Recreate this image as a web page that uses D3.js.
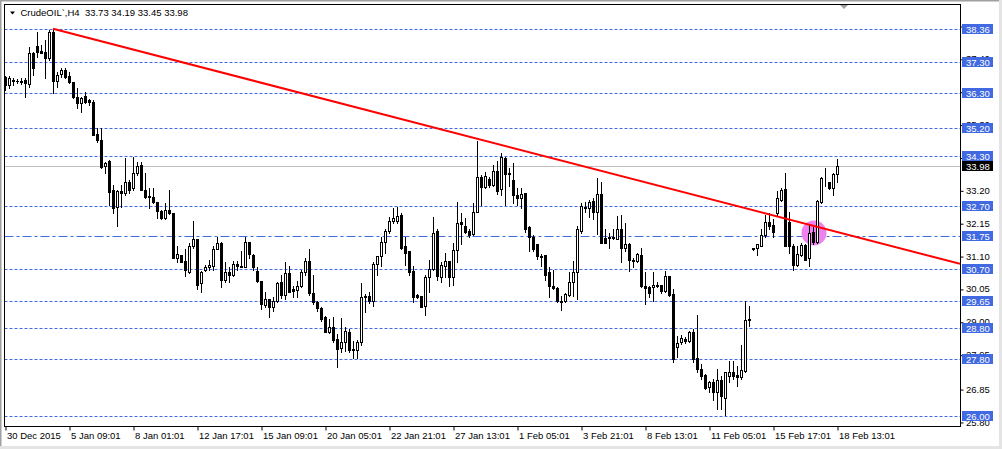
<!DOCTYPE html>
<html>
<head>
<meta charset="utf-8">
<script src="https://cdn.jsdelivr.net/npm/d3@7"></script>
<style>
  body { margin: 0; background: #fff; }
  svg { display: block; }
  svg text { font-family: "Liberation Sans", Arial, sans-serif; font-size: 9.5px; }
</style>
</head>
<body>
<script>
// H4 bars, oldest first (one bar every 4 hours, weekends skipped)
var opens = [
  36.82,36.57,36.73,36.69,36.67,36.73,36.60,37.59,37.81,37.65,
  37.62,37.43,38.26,36.69,36.92,37.05,36.85,36.66,36.19,35.99,
  36.22,36.09,36.03,35.01,34.82,33.99,34.15,33.22,32.68,33.19,
  33.13,33.45,33.29,33.76,34.02,33.22,33.03,33.00,32.84,32.55,
  32.33,32.58,32.46,31.05,31.12,30.93,30.58,31.41,31.63,30.23,
  30.67,30.74,30.77,31.34,31.53,30.35,30.58,30.51,30.86,30.75,
  30.74,31.56,31.12,30.61,30.29,29.53,29.72,29.46,29.65,30.26,
  29.84,30.55,30.04,30.00,30.13,30.58,30.93,29.91,29.62,29.43,
  29.14,28.67,28.83,28.44,28.16,28.35,28.67,28.12,28.09,28.35,
  29.78,29.81,29.65,30.86,31.09,31.56,31.91,32.23,32.23,32.42,
  31.41,31.25,30.61,29.84,29.81,29.49,30.42,30.70,31.91,30.42,
  30.77,30.93,30.42,31.28,32.20,32.07,31.91,31.79,32.52,33.64,
  33.32,33.57,33.38,33.83,33.25,34.24,33.76,33.54,33.06,32.97,
  33.12,32.04,31.72,31.47,31.10,31.12,30.58,30.13,30.07,29.67,
  29.65,29.84,30.26,30.58,31.91,32.62,32.62,32.87,32.52,33.09,
  31.69,31.71,31.72,31.66,31.95,31.37,31.50,30.96,30.93,31.12,
  30.13,30.10,30.10,30.16,30.19,29.97,30.45,29.88,28.19,28.35,
  28.44,28.38,28.67,27.84,27.49,27.30,26.91,27.07,26.75,27.14,
  26.56,27.26,27.39,27.30,27.23,27.42,29.08,31.33,31.37,31.41,
  31.76,32.20,32.10,32.46,32.90,33.25,32.20,31.41,30.80,31.12,
  31.44,31.05,31.88,31.56,32.84,33.45,33.45,33.29,33.73
];
var highs = [
  36.85,36.85,36.79,36.76,36.78,36.79,37.78,37.62,38.26,37.84,
  38.00,38.31,38.36,36.98,37.11,37.11,36.98,36.66,36.47,36.19,
  36.34,36.12,36.09,35.20,35.20,34.11,34.18,33.38,33.22,33.38,
  34.24,33.54,34.27,34.11,34.11,33.76,33.29,33.29,32.84,32.58,
  32.81,33.22,32.46,31.41,31.12,31.31,31.53,32.23,31.63,30.61,
  30.83,30.99,31.41,31.72,31.56,30.90,30.74,30.93,30.93,31.25,
  31.72,31.56,31.15,30.74,30.29,29.94,29.72,29.78,30.26,30.51,
  30.90,30.77,30.13,30.29,30.67,31.05,31.34,30.48,29.65,29.46,
  29.18,29.08,29.14,28.60,29.11,28.83,28.76,28.38,28.41,30.23,
  29.88,29.94,30.90,31.09,31.72,31.98,32.36,32.65,32.68,32.46,
  31.72,31.25,30.77,29.88,29.81,30.51,30.99,32.36,31.95,30.90,
  31.21,30.93,31.53,32.84,32.49,32.33,31.95,32.81,34.78,33.70,
  33.80,33.64,34.02,34.15,34.40,34.27,33.92,34.08,33.29,33.29,
  33.12,32.07,31.76,31.50,31.15,31.12,30.74,30.67,30.10,29.81,
  29.91,30.58,30.93,32.07,32.81,32.84,32.90,32.94,33.60,33.45,
  31.95,31.85,31.98,32.39,32.42,32.17,31.53,31.05,31.21,31.37,
  30.58,30.13,30.58,30.26,30.19,30.61,30.45,30.04,28.54,28.57,
  28.51,28.70,28.76,29.21,27.65,27.33,27.11,27.17,27.49,27.26,
  27.39,27.74,27.74,27.58,28.25,29.68,29.49,31.37,31.50,31.95,
  32.42,32.46,32.27,33.19,33.29,33.76,32.52,31.47,31.41,31.53,
  31.47,32.11,32.04,32.90,33.64,33.92,33.48,33.76,34.19
];
var lows = [
  36.41,36.47,36.57,36.63,36.60,36.19,36.50,36.89,37.46,37.59,
  36.79,37.36,36.31,36.50,36.82,36.79,36.63,36.15,35.83,35.71,
  35.99,35.93,34.97,34.75,33.92,33.76,32.74,32.46,32.07,32.68,
  33.06,33.13,33.22,33.70,33.22,32.97,32.65,32.81,32.33,32.27,
  32.27,32.43,31.05,30.90,30.90,30.45,30.55,31.37,30.04,29.94,
  30.61,30.67,30.67,31.31,30.10,30.26,30.26,30.45,30.67,30.74,
  30.74,31.05,30.67,30.26,29.40,29.46,29.14,29.34,29.62,29.75,
  29.72,29.94,29.78,29.78,30.10,30.51,29.84,29.56,29.34,29.02,
  28.67,28.63,28.35,27.55,28.03,28.06,28.03,27.84,27.84,28.25,
  29.30,29.59,29.49,30.51,30.77,31.21,31.85,32.17,32.17,31.34,
  30.83,30.51,29.62,29.75,29.46,29.21,29.94,30.67,30.35,30.26,
  30.42,30.13,30.19,30.90,31.47,31.85,31.72,31.76,32.52,32.74,
  33.29,33.32,33.35,33.09,33.06,32.74,33.35,32.81,32.74,32.65,
  31.88,31.25,31.25,31.02,30.77,30.35,29.78,30.04,29.62,29.37,
  29.62,29.81,29.81,29.72,31.85,32.52,32.36,32.27,31.79,31.53,
  31.53,31.37,31.63,31.63,30.90,31.25,30.61,30.74,30.90,30.10,
  29.56,29.78,29.65,30.10,29.91,29.94,29.81,27.71,27.87,28.28,
  28.32,28.35,27.71,27.39,27.17,26.85,26.75,26.50,26.21,26.21,
  26.01,27.07,27.17,26.94,27.17,27.39,28.86,31.28,31.12,31.41,
  31.72,31.98,31.72,32.42,32.87,31.41,31.21,30.67,30.77,31.09,
  30.96,30.77,31.47,31.53,32.81,33.35,33.25,33.06,33.45
];
var closes = [
  36.57,36.79,36.69,36.68,36.70,36.63,37.59,37.11,37.62,37.59,
  37.43,38.26,36.69,36.89,37.05,36.82,36.66,36.19,35.99,36.15,
  36.03,36.03,34.97,34.82,33.95,34.08,33.16,32.65,33.19,33.13,
  33.45,33.22,33.76,33.99,33.22,33.00,33.00,32.84,32.55,32.30,
  32.58,32.46,31.05,31.15,30.90,30.67,31.41,31.63,30.16,30.58,
  30.74,30.80,31.34,31.53,30.32,30.58,30.51,30.86,30.77,30.78,
  31.56,31.15,30.74,30.29,29.56,29.72,29.46,29.65,30.23,29.84,
  30.55,29.94,29.97,30.13,30.58,30.93,29.91,29.62,29.43,29.08,
  28.67,28.83,28.41,28.12,28.35,28.70,28.09,28.09,28.35,29.78,
  29.81,29.65,30.86,31.09,31.56,31.91,32.23,32.33,32.39,31.37,
  31.21,30.58,29.78,29.78,29.46,30.42,30.70,31.85,30.45,30.80,
  30.93,30.42,31.28,32.17,32.14,31.88,31.76,32.52,33.64,33.32,
  33.67,33.38,33.83,33.19,34.27,33.73,33.73,33.06,32.94,33.09,
  31.98,31.72,31.31,31.09,31.07,30.51,30.13,30.07,29.65,29.64,
  29.88,30.26,30.58,31.98,32.71,32.68,32.84,32.52,33.09,31.53,
  31.53,31.68,31.69,31.95,31.37,31.50,30.96,30.93,31.15,30.13,
  30.07,29.91,30.16,30.13,29.97,30.45,29.84,27.81,28.32,28.48,
  28.38,28.67,27.81,27.49,27.26,26.88,27.07,26.75,27.14,26.63,
  27.39,27.39,27.26,27.23,27.45,29.05,29.06,31.35,31.47,31.76,
  32.20,32.07,31.88,32.94,33.22,31.41,31.41,30.83,31.18,31.44,
  30.99,31.85,31.56,32.87,33.60,33.48,33.29,33.73,33.98
];

// time axis: one label every 16 bars
var timeLabels = ["30 Dec 2015", "5 Jan 09:01", "8 Jan 01:01", "12 Jan 17:01", "15 Jan 09:01",
  "20 Jan 05:01", "22 Jan 21:01", "27 Jan 13:01", "1 Feb 05:01", "3 Feb 21:01",
  "8 Feb 13:01", "11 Feb 05:01", "15 Feb 17:01", "18 Feb 13:01"];
var priceTicks = [25.80, 26.85, 27.95, 29.00, 30.05, 31.10, 32.15, 33.20, 34.25, 35.30, 36.35, 37.40, 38.45];

// horizontal levels drawn by hand on the chart
var levels = [38.36, 37.30, 36.30, 35.20, 34.30, 32.70, 31.75, 30.70, 29.65, 28.80, 27.80, 26.00];
var dashDotLevel = 31.75;

// trend line anchors [bar index, price] and the highlight circle
var trendPoints = [[12, 38.36], [118, 34.85]];
var marker = [202.25, 31.84];

var symbol = "CrudeOIL`,H4";

drawChart();

function drawChart(){
    var width = 1002,
        height = 449;

    //plot frame
    var left = 4.5, right = 960.5, top = 4.5, bottom = 426.5;

    var svg = d3.select("body")
        .append("svg")
        .attr("width", width)
        .attr("height", height);

    svg.append("rect")
        .attr("width", width)
        .attr("height", height)
        .attr("fill", "#fff");

    //window edges
    svg.append("rect").attr("x", 0).attr("y", 0).attr("width", width).attr("height", 1.5).attr("fill", "#a0a0a0");
    svg.append("rect").attr("x", 0).attr("y", 0).attr("width", 1.5).attr("height", height).attr("fill", "#a0a0a0");
    svg.append("rect").attr("x", 0).attr("y", 446).attr("width", width).attr("height", 3).attr("fill", "#e4e4e4");
    svg.append("rect").attr("x", 999).attr("y", 0).attr("width", 3).attr("height", height).attr("fill", "#e4e4e4");

    //bar index -> x, 4 px per bar, free space on the right
    var x = d3.scaleLinear()
        .domain([0, 238.75])
        .range([5, 960]);

    var y = d3.scaleLinear()
        .domain([38.36, 26.00])
        .range([28.8, 415.7]);

    function py(v){ return Math.round(y(v)) + 0.5; }

    svg.append("clipPath")
        .attr("id", "plot")
        .append("rect")
        .attr("x", left + 0.5)
        .attr("y", top + 0.5)
        .attr("width", right - left - 1)
        .attr("height", bottom - top - 1);

    var plot = svg.append("g").attr("clip-path", "url(#plot)");

    //bid line
    var last = closes.length - 1;
    plot.append("line")
        .attr("x1", left).attr("x2", right)
        .attr("y1", py(closes[last])).attr("y2", py(closes[last]))
        .attr("stroke", "#c0c0c0")
        .attr("stroke-width", 1);

    //horizontal levels
    plot.selectAll(".level")
        .data(levels)
        .enter()
        .append("line")
        .attr("class", "level")
        .attr("x1", left).attr("x2", right)
        .attr("y1", py).attr("y2", py)
        .attr("stroke", "#4169e1")
        .attr("stroke-width", 1)
        .attr("stroke-dasharray", function(d){ return d === dashDotLevel ? "9,3,3,3" : "3,2"; });

    //highlight circle
    plot.append("circle")
        .attr("cx", x(marker[0]))
        .attr("cy", y(marker[1]))
        .attr("r", 12.5)
        .attr("fill", "#ee82ee");

    //candles
    var bars = d3.range(opens.length);
    var candle = plot.selectAll(".candle")
        .data(bars)
        .enter()
        .append("g")
        .attr("class", "candle");

    candle.append("line")
        .attr("x1", function(i){ return Math.round(x(i)) + 0.5; })
        .attr("x2", function(i){ return Math.round(x(i)) + 0.5; })
        .attr("y1", function(i){ return Math.round(y(highs[i])); })
        .attr("y2", function(i){ return Math.round(y(lows[i])) + 1; })
        .attr("stroke", "#000")
        .attr("stroke-width", 1);

    candle.append("rect")
        .attr("x", function(i){
            var cx = Math.round(x(i));
            return closes[i] >= opens[i] ? cx - 0.5 : cx - 1;
        })
        .attr("y", function(i){
            var t = Math.round(y(Math.max(opens[i], closes[i])));
            return closes[i] >= opens[i] ? t + 0.5 : t;
        })
        .attr("width", function(i){ return closes[i] >= opens[i] ? 2 : 3; })
        .attr("height", function(i){
            var t = Math.round(y(Math.max(opens[i], closes[i])));
            var b = Math.round(y(Math.min(opens[i], closes[i])));
            return closes[i] >= opens[i] ? Math.max(0, b - t) : Math.max(1, b - t + 1);
        })
        .attr("fill", function(i){ return closes[i] >= opens[i] ? "#fff" : "#000"; })
        .attr("stroke", function(i){ return closes[i] >= opens[i] ? "#000" : "none"; })
        .attr("stroke-width", 1);

    //trend line, extended as a ray to the right edge
    var slope = (trendPoints[1][1] - trendPoints[0][1]) / (trendPoints[1][0] - trendPoints[0][0]);
    var endIndex = x.domain()[1];
    plot.append("line")
        .attr("x1", x(trendPoints[0][0]))
        .attr("y1", y(trendPoints[0][1]))
        .attr("x2", x(endIndex))
        .attr("y2", y(trendPoints[0][1] + slope * (endIndex - trendPoints[0][0])))
        .attr("stroke", "#ff0000")
        .attr("stroke-width", 2);

    //frame
    svg.append("rect")
        .attr("x", left).attr("y", top)
        .attr("width", right - left).attr("height", bottom - top)
        .attr("fill", "none")
        .attr("stroke", "#000")
        .attr("stroke-width", 1);

    //price axis
    var yAxis = svg.append("g")
        .attr("transform", "translate(" + right + ",0)")
        .call(d3.axisRight(y).tickValues(priceTicks).tickSize(3).tickPadding(2.5).tickFormat(d3.format(".2f")));
    yAxis.select(".domain").remove();
    yAxis.selectAll(".tick line").attr("transform", "translate(0,0.5)");
    yAxis.selectAll("text")
        .attr("fill", "#000")
        .style("font-family", "'Liberation Sans', Arial, sans-serif")
        .style("font-size", "9.5px");

    //time axis
    var xAxis = svg.append("g")
        .attr("transform", "translate(0," + bottom + ")")
        .call(d3.axisBottom(x)
            .tickValues(d3.range(0, opens.length, 16))
            .tickSize(4)
            .tickFormat(function(d, i){ return timeLabels[i]; }));
    xAxis.select(".domain").remove();
    xAxis.selectAll(".tick line").attr("transform", "translate(0.5,0)");
    xAxis.selectAll("text")
        .attr("text-anchor", "start")
        .attr("x", 1.5)
        .attr("y", 6)
        .attr("fill", "#000")
        .style("font-family", "'Liberation Sans', Arial, sans-serif")
        .style("font-size", "9.5px");

    //level price tags
    var tags = svg.selectAll(".tag")
        .data(levels.map(function(d){ return {v: d, c: "#4169e1"}; })
            .concat([{v: closes[last], c: "#000"}]))
        .enter()
        .append("g")
        .attr("class", "tag")
        .attr("transform", function(d){ return "translate(962," + py(d.v) + ")"; });

    tags.append("rect")
        .attr("x", 0).attr("y", -5.5)
        .attr("width", 31).attr("height", 10)
        .attr("fill", function(d){ return d.c; });

    tags.append("text")
        .attr("x", 4)
        .attr("y", 0)
        .attr("dy", "0.36em")
        .attr("fill", "#fff")
        .text(function(d){ return d.v.toFixed(2); });

    //header
    svg.append("path")
        .attr("d", "M10,11.5L15,11.5L12.5,14.5Z")
        .attr("fill", "#000");

    svg.append("text")
        .attr("x", 20.5)
        .attr("y", 16)
        .attr("fill", "#000")
        .attr("xml:space", "preserve")
        .style("white-space", "pre")
        .text(symbol + "  " + [opens[last], highs[last], lows[last], closes[last]]
            .map(function(v){ return v.toFixed(2); }).join(" "));

    //chart shift marker
    svg.append("path")
        .attr("d", "M840,5L848,5L844,9Z")
        .attr("fill", "#a0a0a0");
}
</script>
</body>
</html>
